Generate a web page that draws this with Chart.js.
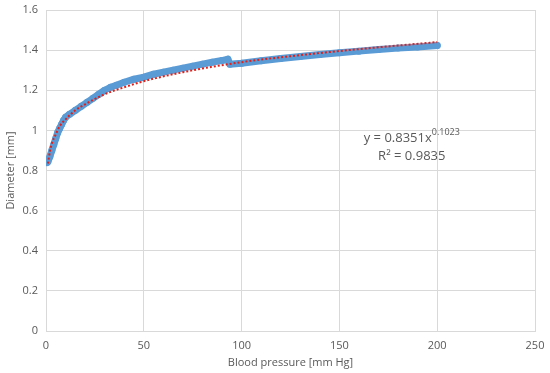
<!DOCTYPE html>
<html>
<head>
<meta charset="utf-8">
<script src="https://cdn.jsdelivr.net/npm/chart.js@4"></script>
<style>
  html, body { margin: 0; padding: 0; background: #fff; }
  #wrap { width: 550px; height: 373px; }
</style>
</head>
<body>
<div id="wrap"><canvas id="chart"></canvas></div>
<script>
// measured points (blood pressure, diameter)
const pressure = [0.5, 1, 2, 3, 4, 5, 6, 7, 8, 9, 10, 12, 15, 18, 21, 24, 27, 30, 33, 36, 40, 45, 50,
  55, 60, 65, 70, 75, 80, 85, 90, 93, 94, 100, 110, 120, 130, 140, 150, 160, 170, 180, 190, 200];
const diameter = [0.84, 0.845, 0.87, 0.90, 0.93, 0.96, 0.99, 1.01, 1.03, 1.05, 1.065, 1.08, 1.10, 1.12, 1.14, 1.16, 1.18, 1.20, 1.215, 1.225, 1.24, 1.255, 1.265,
  1.28, 1.29, 1.30, 1.31, 1.32, 1.33, 1.34, 1.348, 1.355, 1.33, 1.335, 1.347, 1.358, 1.368, 1.378, 1.387, 1.395, 1.403, 1.41, 1.416, 1.423];

// power trendline as drawn
const trendX = [1, 2, 3, 5, 7, 10, 15, 20, 30, 40, 50, 70, 100, 130, 160, 200];
const trendY = [0.835, 0.895, 0.935, 0.98, 1.02, 1.055, 1.10, 1.13, 1.18, 1.215, 1.245, 1.29, 1.34, 1.375, 1.405, 1.44];

const xTicks = [0, 50, 100, 150, 200, 250];
const yTicks = [0, 0.2, 0.4, 0.6, 0.8, 1, 1.2, 1.4, 1.6];

const eqText = 'y = 0.8351x';
const eqExp = '0.1023';
const r2Text = 'R² = 0.9835';

const textColor = '#595959';
const gridColor = '#d9d9d9';
const fontFamily = "'Open Sans', 'Liberation Sans', sans-serif";

const trendLabel = {
  id: 'trendLabel',
  afterDraw(chart) {
    const ctx = chart.ctx;
    const x = chart.scales.x.getPixelForValue(187);
    const y = chart.scales.y.getPixelForValue(0.96);
    ctx.save();
    ctx.fillStyle = textColor;
    ctx.textBaseline = 'middle';
    ctx.font = '13px ' + fontFamily;
    const w1 = ctx.measureText(eqText).width;
    ctx.font = '9px ' + fontFamily;
    const w2 = ctx.measureText(eqExp).width;
    const left = x - (w1 + w2) / 2;
    ctx.font = '13px ' + fontFamily;
    ctx.textAlign = 'left';
    ctx.fillText(eqText, left, y);
    ctx.font = '9px ' + fontFamily;
    ctx.fillText(eqExp, left + w1, y - 6);
    ctx.font = '13px ' + fontFamily;
    ctx.textAlign = 'center';
    ctx.fillText(r2Text, x, y + 18);
    ctx.restore();
  }
};

new Chart(document.getElementById('chart'), {
  type: 'scatter',
  data: {
    datasets: [
      {
        label: 'Trend',
        data: trendX.map((x, i) => ({ x, y: trendY[i] })),
        showLine: true,
        borderColor: '#e0201b',
        borderWidth: 2,
        borderDash: [2, 2],
        pointRadius: 0,
        cubicInterpolationMode: 'monotone',
        order: 0
      },
      {
        label: 'Diameter',
        data: pressure.map((x, i) => ({ x, y: diameter[i] })),
        showLine: true,
        borderColor: '#5b9bd5',
        borderWidth: 7,
        borderCapStyle: 'round',
        borderJoinStyle: 'round',
        backgroundColor: '#5b9bd5',
        pointRadius: 3.5,
        pointBorderWidth: 0,
        order: 1
      }
    ]
  },
  options: {
    responsive: true,
    maintainAspectRatio: false,
    animation: false,
    layout: { padding: { top: 10, right: 15, left: 0, bottom: 0 } },
    plugins: {
      legend: { display: false },
      tooltip: { enabled: false }
    },
    scales: {
      x: {
        type: 'linear',
        min: 0,
        max: 250,
        afterBuildTicks: s => { s.ticks = xTicks.map(v => ({ value: v })); },
        afterFit: s => { s.height = 42; s.paddingRight = 0; s.paddingLeft = 0; },
        grid: { color: gridColor, drawTicks: false },
        border: { color: gridColor },
        ticks: { color: textColor, font: { family: fontFamily, size: 11 }, padding: 8 },
        title: { display: true, text: 'Blood pressure [mm Hg]', color: textColor, font: { family: fontFamily, size: 11 }, padding: { top: 2 } }
      },
      y: {
        type: 'linear',
        min: 0,
        max: 1.6,
        afterBuildTicks: s => { s.ticks = yTicks.map(v => ({ value: v })); },
        afterFit: s => { s.width = 46; s.paddingTop = 0; s.paddingBottom = 0; },
        grid: { color: gridColor, drawTicks: false },
        border: { color: gridColor },
        ticks: { color: textColor, font: { family: fontFamily, size: 11 }, padding: 8, callback: v => String(Math.round(v * 10) / 10) },
        title: { display: true, text: 'Diameter [mm]', color: textColor, font: { family: fontFamily, size: 11 }, padding: { bottom: 2 } }
      }
    }
  },
  plugins: [trendLabel]
});
</script>
</body>
</html>
